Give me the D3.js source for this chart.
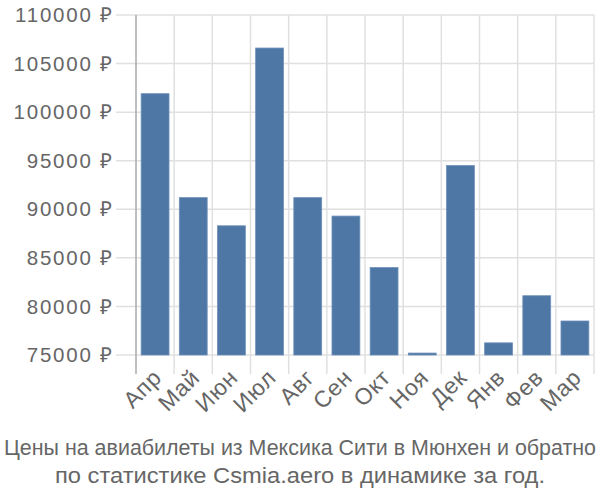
<!DOCTYPE html>
<html><head><meta charset="utf-8">
<script src="https://cdn.jsdelivr.net/npm/d3@7"></script>
<style>body{margin:0;background:#fff}svg{display:block}</style>
</head><body>
<script>
const categories = ["Апр","Май","Июн","Июл","Авг","Сен","Окт","Ноя","Дек","Янв","Фев","Мар"];
const values = [101900, 91200, 88300, 106600, 91200, 89300, 84000, 75200, 94500, 76250, 81100, 78500];
const yTicks = [75000, 80000, 85000, 90000, 95000, 100000, 105000, 110000];
const titleLines = ["Цены на авиабилеты из Мексика Сити в Мюнхен и обратно", "по статистике Csmia.aero в динамике за год."];
const titleWidths = [592, 490];

const W = 600, H = 500;
const m = {left: 136, right: 6, top: 15, bottom: 145};
const svg = d3.select("body").append("svg").attr("width", W).attr("height", H);
const font = "'Liberation Sans', Arial, sans-serif";
const textColor = "#666";

const x = d3.scaleBand().domain(categories).range([m.left, W - m.right]).paddingInner(0.27).paddingOuter(0.135);
const y = d3.scaleLinear().domain([75000, 110000]).range([H - m.bottom, m.top]);

const bandStep = x.step();
const boundaries = categories.map((c, i) => m.left + i * bandStep).concat([m.left + categories.length * bandStep]);

svg.append("g").selectAll("line").data(yTicks).join("line")
  .attr("x1", m.left - 20).attr("x2", W - m.right)
  .attr("y1", d => y(d)).attr("y2", d => y(d))
  .attr("stroke", "#e0e0e0").attr("stroke-width", 1.5);

svg.append("g").selectAll("line").data(boundaries.slice(1)).join("line")
  .attr("x1", d => d).attr("x2", d => d)
  .attr("y1", m.top).attr("y2", H - m.bottom + 19)
  .attr("stroke", "#e0e0e0").attr("stroke-width", 1.5);

svg.append("line").attr("x1", m.left).attr("x2", m.left)
  .attr("y1", m.top).attr("y2", H - m.bottom + 19)
  .attr("stroke", "#aaa").attr("stroke-width", 1.5);

svg.append("g").selectAll("rect").data(values).join("rect")
  .attr("x", (d, i) => x(categories[i]))
  .attr("width", x.bandwidth())
  .attr("y", d => y(d))
  .attr("height", d => y(75000) - y(d))
  .attr("fill", "#4e77a5")
  .attr("stroke", "#6d8fb9").attr("stroke-width", 0.8);

svg.append("g").selectAll("text").data(yTicks).join("text")
  .attr("x", m.left - 22).attr("y", d => y(d)).attr("dy", "0.35em")
  .attr("text-anchor", "end")
  .attr("font-family", font).attr("font-size", 20.5).attr("letter-spacing", 1.8).attr("fill", textColor)
  .text(d => d + " ₽");

svg.append("g").selectAll("text").data(categories).join("text")
  .attr("transform", d => `translate(${x(d) + x.bandwidth()/2 + 8},${H - m.bottom + 24}) rotate(-45)`)
  .attr("text-anchor", "end")
  .attr("font-family", font).attr("font-size", 23).attr("letter-spacing", 0.8).attr("fill", textColor)
  .text(d => d);

svg.append("g").selectAll("text").data(titleLines).join("text")
  .attr("x", W / 2).attr("y", (d, i) => 455 + i * 28)
  .attr("text-anchor", "middle")
  .attr("textLength", (d, i) => titleWidths[i]).attr("lengthAdjust", "spacingAndGlyphs")
  .attr("font-family", font).attr("font-size", 21.5).attr("fill", textColor)
  .text(d => d);
</script>
</body></html>
